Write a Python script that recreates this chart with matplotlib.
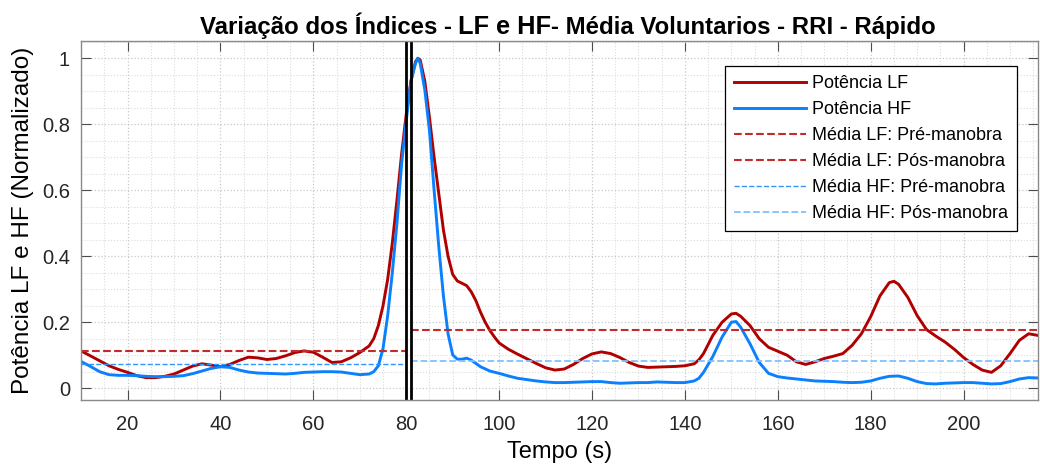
import numpy as np
import matplotlib
matplotlib.use('Agg')
import matplotlib.pyplot as plt
from matplotlib.ticker import MultipleLocator
from matplotlib.font_manager import FontProperties

plt.rcParams['font.family'] = ['Liberation Sans', 'DejaVu Sans']

# potência LF (normalizada)
t_lf = [10, 12, 14, 16, 18, 20, 22, 24, 26, 28, 30, 32, 34, 36, 38, 40, 42, 44, 46, 48,
        50, 52, 54, 56, 58, 60, 62, 64, 66, 68, 70, 72, 73, 74, 75, 76, 77, 78, 79, 80,
        81, 82, 82.5, 83, 84, 85, 86, 87, 88, 89, 90, 91, 92, 93, 94, 95, 96, 97, 98, 99,
        100, 102, 104, 106, 108, 110, 112, 114, 116, 118, 120, 122, 124, 126, 128, 130,
        132, 134, 136, 138, 140, 142, 143, 144, 146, 148, 150, 151, 152, 154, 156, 158,
        160, 162, 164, 166, 168, 170, 172, 174, 176, 178, 180, 182, 184, 185, 186, 188,
        190, 192, 194, 196, 198, 200, 202, 204, 206, 208, 210, 212, 214, 216]
lf = [0.113, 0.098, 0.083, 0.068, 0.057, 0.048, 0.038, 0.032, 0.032, 0.036, 0.043, 0.055,
      0.067, 0.074, 0.070, 0.065, 0.072, 0.084, 0.094, 0.092, 0.087, 0.090, 0.098, 0.108,
      0.113, 0.109, 0.094, 0.078, 0.080, 0.092, 0.108, 0.128, 0.150, 0.190, 0.250, 0.330,
      0.440, 0.570, 0.710, 0.830, 0.930, 0.990, 1.000, 0.995, 0.930, 0.820, 0.700, 0.590,
      0.480, 0.400, 0.345, 0.325, 0.318, 0.311, 0.292, 0.265, 0.230, 0.200, 0.175, 0.155,
      0.137, 0.118, 0.103, 0.089, 0.075, 0.062, 0.055, 0.058, 0.072, 0.090, 0.104, 0.110,
      0.105, 0.093, 0.078, 0.067, 0.063, 0.064, 0.065, 0.066, 0.068, 0.074, 0.086, 0.105,
      0.160, 0.200, 0.225, 0.227, 0.218, 0.190, 0.150, 0.124, 0.112, 0.100, 0.080, 0.072,
      0.080, 0.090, 0.097, 0.105, 0.130, 0.165, 0.217, 0.280, 0.320, 0.324, 0.315, 0.275,
      0.220, 0.178, 0.158, 0.140, 0.118, 0.093, 0.072, 0.055, 0.048, 0.068, 0.105, 0.145,
      0.165, 0.160]

# potência HF (normalizada)
t_hf = [10, 12, 14, 16, 18, 20, 22, 24, 26, 28, 30, 32, 34, 36, 38, 40, 42, 44, 46, 48,
        50, 52, 54, 56, 58, 60, 62, 64, 66, 68, 70, 72, 73, 74, 75, 76, 77, 78, 79, 80,
        81, 82, 82.5, 83, 84, 85, 86, 87, 88, 89, 90, 91, 92, 93, 94, 95, 96, 98, 100,
        102, 104, 106, 108, 110, 112, 114, 116, 118, 120, 122, 124, 126, 128, 130, 132,
        134, 136, 138, 140, 142, 143, 144, 146, 148, 150, 151, 152, 154, 156, 158, 160,
        162, 164, 166, 168, 170, 172, 174, 176, 178, 180, 182, 184, 186, 188, 190, 192,
        194, 196, 198, 200, 202, 204, 206, 208, 210, 212, 214, 216]
hf = [0.081, 0.066, 0.050, 0.041, 0.039, 0.039, 0.038, 0.036, 0.035, 0.035, 0.036, 0.038,
      0.044, 0.052, 0.060, 0.065, 0.063, 0.055, 0.049, 0.046, 0.045, 0.044, 0.043, 0.045,
      0.048, 0.049, 0.050, 0.050, 0.049, 0.045, 0.041, 0.043, 0.050, 0.068, 0.120, 0.220,
      0.350, 0.500, 0.680, 0.810, 0.930, 0.985, 1.000, 0.985, 0.904, 0.780, 0.600, 0.430,
      0.280, 0.165, 0.101, 0.088, 0.088, 0.091, 0.085, 0.075, 0.065, 0.052, 0.045, 0.037,
      0.030, 0.026, 0.022, 0.019, 0.017, 0.017, 0.018, 0.019, 0.020, 0.020, 0.017, 0.015,
      0.016, 0.017, 0.017, 0.019, 0.018, 0.017, 0.017, 0.022, 0.030, 0.048, 0.096, 0.155,
      0.200, 0.202, 0.185, 0.135, 0.078, 0.045, 0.035, 0.031, 0.028, 0.025, 0.022, 0.021,
      0.020, 0.018, 0.017, 0.018, 0.022, 0.030, 0.036, 0.037, 0.030, 0.020, 0.014, 0.013,
      0.015, 0.016, 0.017, 0.017, 0.015, 0.013, 0.014, 0.020, 0.028, 0.032, 0.031]

# médias antes e depois da manobra
t_ini, t_fim = 10, 216
t_manobra = [80, 81]
media_lf_pre, media_lf_pos = 0.114, 0.177
media_hf_pre, media_hf_pos = 0.074, 0.081

fig, ax = plt.subplots(figsize=(10.4, 4.67), dpi=100)
fig.subplots_adjust(left=0.078, right=0.998, bottom=0.144, top=0.912)

ax.plot(t_lf, lf, color='#b00000', lw=2.1, label='Potência LF')
ax.plot(t_hf, hf, color='#0a80ff', lw=2.1, label='Potência HF')
ax.plot([t_ini, t_manobra[0]], [media_lf_pre] * 2, '--', color='#c42a2a', lw=1.5,
        label='Média LF: Pré-manobra')
ax.plot([t_manobra[1], t_fim], [media_lf_pos] * 2, '--', color='#c42a2a', lw=1.5,
        label='Média LF: Pós-manobra')
ax.plot([t_ini, t_manobra[0]], [media_hf_pre] * 2, '--', color='#2f96ff', lw=1.0,
        label='Média HF: Pré-manobra')
ax.plot([t_manobra[1], t_fim], [media_hf_pos] * 2, '--', color='#7fc0ff', lw=1.3,
        label='Média HF: Pós-manobra')
for tm in t_manobra:
    ax.axvline(tm, color='black', lw=2)

ax.set_xlim(t_ini, t_fim)
ax.set_ylim(-0.035, 1.052)
ax.xaxis.set_major_locator(MultipleLocator(20))
ax.xaxis.set_minor_locator(MultipleLocator(5))
ax.yaxis.set_minor_locator(MultipleLocator(0.05))
ax.set_yticks([0, 0.2, 0.4, 0.6, 0.8, 1])
ax.set_yticklabels(['0', '0.2', '0.4', '0.6', '0.8', '1'])
ax.grid(which='major', color='#c8c8c8', ls=':', lw=0.9)
ax.grid(which='minor', color='#dcdcdc', ls=':', lw=0.8)
ax.tick_params(which='major', direction='in', length=7, width=0.8, color='#4d4d4d',
               labelsize=14.5, labelcolor='#262626', top=True, right=True, pad=8)
ax.tick_params(axis='x', which='major', pad=11)
ax.tick_params(which='minor', length=0, top=True, right=True)
for s in ax.spines.values():
    s.set_color('#8a8a8a')
    s.set_linewidth(1)

ax.set_xlabel('Tempo (s)', fontsize=17, labelpad=5)
ax.set_ylabel('Potência LF e HF (Normalizado)', fontsize=17.5, labelpad=6)

# título em três partes, com "LF e HF" maior
partes = [('Variação dos Índices - ', 17.3), ('LF e HF', 18.3),
          ('- Média Voluntarios - RRI - Rápido', 17.3)]
base_y = 0.927
fp = FontProperties(family='Liberation Sans', weight='bold', size=partes[0][1])
anterior = fig.text(0.192, base_y, partes[0][0], fontproperties=fp,
                    va='baseline', ha='left')
for txt, tam in partes[1:]:
    fp = FontProperties(family='Liberation Sans', weight='bold', size=tam)
    anterior = ax.annotate(txt, xy=(1, base_y), xycoords=(anterior, 'figure fraction'),
                           fontproperties=fp, va='baseline', ha='left',
                           annotation_clip=False)

leg = ax.legend(loc='upper right', bbox_to_anchor=(0.978, 0.931), borderaxespad=0,
                fontsize=13, fancybox=False, edgecolor='black', framealpha=1,
                handlelength=4.0, handletextpad=0.3, borderpad=0.5, labelspacing=0.5)
leg.get_frame().set_linewidth(0.9)

fig.savefig('out.png', dpi=100)
